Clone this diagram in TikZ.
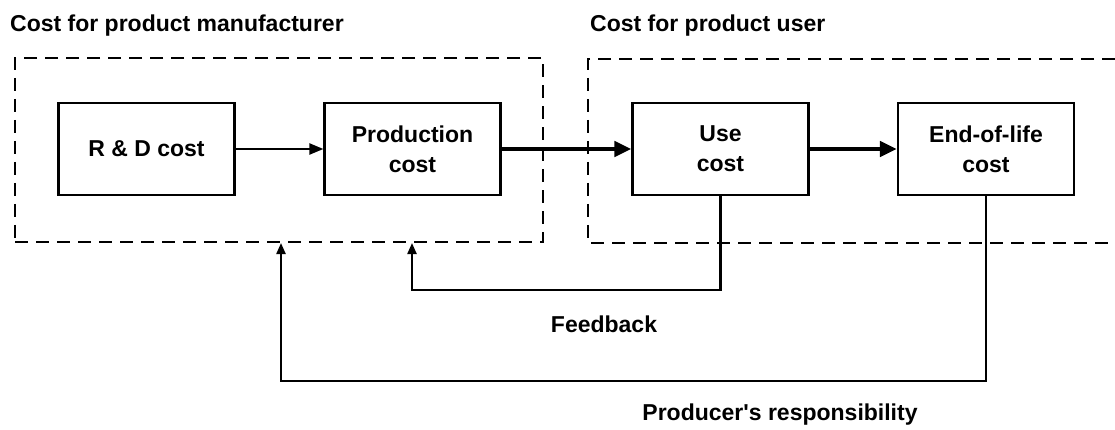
\documentclass[tikz,border=0pt]{standalone}
\usepackage{fontspec}
\setmainfont{Liberation Sans}
\usetikzlibrary{arrows.meta,positioning}
\tikzstyle{costbox}=[draw,line width=2.2pt,minimum width=176pt,minimum height=92pt,inner sep=0pt,align=center,font=\fontsize{23}{30}\selectfont\bfseries]
\tikzstyle{caption}=[inner sep=0pt,font=\fontsize{23}{27}\selectfont\bfseries]
\tikzstyle{group}=[draw,line width=2.6pt,dash pattern=on 13pt off 8pt]
\tikzstyle{small flow}=[draw,line width=2.2pt,-{Triangle[length=14pt,width=11pt]}]
\tikzstyle{big flow}=[draw,line width=4.5pt,-{Triangle[length=17pt,width=15pt]}]
\tikzstyle{return line}=[draw,line width=2.2pt,-{Triangle[length=11pt,width=9pt]}]

\begin{document}
\begin{tikzpicture}[x=1pt,y=-1pt]
    \useasboundingbox (0,0) rectangle (1115,430);

    % the two cost groups
    \node[caption,anchor=west] (mfrlabel) at (10,26) {Cost for product manufacturer};
    \node[caption,anchor=west] (userlabel) at (590,26) {Cost for product user};
    \node[group,minimum width=528pt,minimum height=184pt] (mfr) at (279,150) {};
    \draw[group] (1115,59) -| (588,243) -- (1115,243);

    \foreach \pos/\name/\txt in {{(146.5,149)/rd/R \& D cost}, {(412.5,149)/prod/Production\\cost},
                                 {(720.5,149)/use/Use\\cost}, {(986,149)/eol/End-of-life\\cost}}
        \node[costbox] (\name) at \pos {\txt};

    \path[small flow] (rd) -- (prod);
    \path[big flow] (prod) -- (use);
    \path[big flow] (use) -- (eol);

    % back to the manufacturer
    \coordinate (fbin) at (412,243);
    \coordinate (prin) at (281,243);
    \path[return line] (use.south) -- ++(0,94) -| (fbin);
    \path[return line] (eol.south) -- ++(0,185) -| (prin);

    \node[caption] (fblabel) at (604,324) {Feedback};
    \node[caption] (prlabel) at (780,415) {Producer\textquotesingle s responsibility};

\end{tikzpicture}
\end{document}
